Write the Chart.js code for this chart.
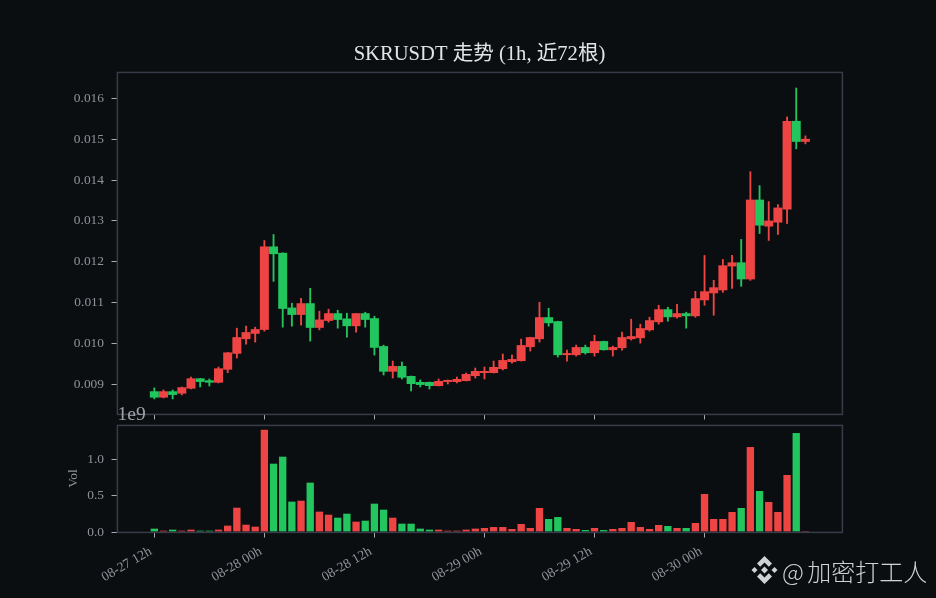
<!DOCTYPE html>
<html><head><meta charset="utf-8">
<script src="https://cdn.jsdelivr.net/npm/chart.js@4/dist/chart.umd.min.js"></script>
<style>
html,body{margin:0;padding:0;background:#0b0e11;width:936px;height:598px;overflow:hidden}
canvas{position:absolute;left:0}
#offset{position:absolute;left:117.5px;top:403px;font:19.5px "Liberation Serif","DejaVu Serif",serif;color:#9ea3ab}
#wm{position:absolute;left:751px;top:553px;height:34px;display:flex;align-items:center;color:#d0d2d4;font:300 24px "Noto Sans CJK SC","Noto Sans",sans-serif;white-space:nowrap}
#wm svg{margin-right:4px}
#wm b{font-weight:300;margin-left:-2px}
</style></head><body>
<canvas id="main" style="top:0"></canvas>
<canvas id="vol" style="top:420px"></canvas>
<div id="offset">1e9</div>
<div id="wm"><svg width="27" height="30" viewBox="0 0 27 30"><g fill="#d0d2d4"><polygon points="13.5,1 21,8.5 17.8,11.7 13.5,7.4 9.2,11.7 6,8.5"/><polygon points="13.5,29 21,21.5 17.8,18.3 13.5,22.6 9.2,18.3 6,21.5"/><polygon points="3.5,12 6.5,15 3.5,18 .5,15"/><polygon points="23.5,12 26.5,15 23.5,18 20.5,15"/><polygon points="13.5,11.5 17,15 13.5,18.5 10,15"/></g></svg><span>@ <b>加密打工人</b></span></div>
<script>
const SERIF='"Liberation Serif","DejaVu Serif",serif';
const title='SKRUSDT 走势 (1h, 近72根)';
const tickIdx=[0,12,24,36,48,60];
const tickLabels=['08-27 12h','08-28 00h','08-28 12h','08-29 00h','08-29 12h','08-30 00h'];
const priceTicks=[0.009,0.010,0.011,0.012,0.013,0.014,0.015,0.016];
const volTicks=[0,0.5,1.0];
const openP=[.008829,.008675,.008829,.008772,.008894,.009146,.009098,.009041,.009358,.009748,.010106,.010236,.010333,.012374,.012219,.010878,.010699,.010984,.010382,.010553,.010740,.010610,.010423,.010740,.010618,.009935,.009309,.009447,.009203,.009057,.009057,.008959,.009057,.009057,.009081,.009203,.009276,.009276,.009374,.009545,.009569,.009911,.010106,.010642,.010545,.009715,.009715,.009911,.009764,.010057,.009837,.009886,.010106,.010130,.010325,.010520,.010837,.010642,.010740,.010667,.011057,.011228,.011301,.011886,.011984,.011569,.013520,.012862,.012959,.013276,.015447,.014935];
const closeP=[.008675,.008829,.008740,.008927,.009146,.009057,.009041,.009390,.009780,.010154,.010276,.010350,.012374,.012187,.010846,.010699,.010984,.010382,.010585,.010740,.010577,.010423,.010740,.010577,.009894,.009309,.009447,.009163,.009008,.008984,.008959,.009081,.009106,.009130,.009252,.009325,.009325,.009423,.009593,.009618,.009959,.010154,.010642,.010496,.009715,.009764,.009911,.009764,.010057,.009837,.009911,.010154,.010179,.010374,.010569,.010837,.010642,.010740,.010667,.011106,.011276,.011374,.011911,.011984,.011569,.013520,.012886,.013008,.013325,.015447,.014935,.015008];
const highP=[.008911,.008862,.008862,.008935,.009179,.009146,.009130,.009423,.009780,.010374,.010423,.010398,.012520,.012667,.012219,.010984,.011106,.011350,.010789,.010837,.010813,.010740,.010740,.010764,.010667,.009959,.009569,.009545,.009203,.009106,.009057,.009130,.009106,.009179,.009276,.009398,.009423,.009569,.009740,.009715,.010106,.010154,.011008,.010862,.010545,.009837,.009959,.009959,.010203,.010057,.009935,.010276,.010593,.010472,.010642,.010935,.010886,.010959,.010764,.011276,.012154,.011545,.012057,.012154,.012545,.014203,.013862,.013472,.013398,.015545,.016252,.015081];
const lowP=[.008642,.008667,.008642,.008740,.008886,.008935,.008959,.009033,.009285,.009642,.009984,.010033,.010301,.011520,.010398,.010423,.010447,.010057,.010333,.010520,.010374,.010154,.010276,.010398,.009715,.009228,.009154,.009130,.008837,.008935,.008886,.008959,.009008,.009033,.009081,.009154,.009130,.009276,.009350,.009520,.009569,.009813,.010033,.010423,.009667,.009569,.009691,.009740,.009691,.009837,.009691,.009837,.010081,.010008,.010301,.010472,.010545,.010618,.010374,.010642,.010935,.010691,.011252,.011350,.011398,.011545,.012691,.012520,.012667,.012935,.014764,.014886];
const volume=[.046,.018,.032,.018,.032,.018,.018,.032,.087,.333,.100,.073,1.402,.936,1.032,.416,.429,.676,.279,.237,.196,.251,.142,.155,.388,.306,.196,.114,.114,.046,.032,.032,.018,.018,.032,.046,.055,.068,.068,.041,.110,.055,.329,.178,.205,.055,.041,.027,.055,.027,.041,.055,.137,.068,.041,.096,.082,.055,.055,.123,.521,.178,.178,.274,.329,1.164,.562,.411,.274,.781,1.356,.014];

const RED='#ef4444',GREEN='#22c55e',FRAME='#363c49',TXT='#8f949c',TICK='#a8acb2';
const idx=openP.map((_,i)=>i);
const colors=openP.map((o,i)=>closeP[i]>=o?RED:GREEN);
const frame={id:'frame',afterDraw(c){const a=c.chartArea,x=c.ctx;x.save();x.strokeStyle=FRAME;x.lineWidth=1.5;x.strokeRect(a.left+.4,a.top+.4,a.right-a.left,a.bottom-a.top);x.restore();}};
const X_MIN=-4.07,X_MAX=74.99;
function xScale(h,showLabels){return {type:'linear',min:X_MIN,max:X_MAX,offset:false,
  afterBuildTicks(s){s.ticks=tickIdx.map(v=>({value:v}));},
  afterFit(s){s.height=h;s.paddingLeft=0;s.paddingRight=0;},
  border:{display:false},
  grid:{display:true,offset:false,drawOnChartArea:false,drawTicks:true,tickLength:5.5,tickWidth:1,tickColor:TICK},
  ticks:{autoSkip:false,maxRotation:30,minRotation:showLabels?30:0,padding:6,labelOffset:showLabels?-3.5:0,color:TXT,font:{family:SERIF,size:13.6},
    callback(v){if(!showLabels)return '';const k=tickIdx.indexOf(v);return k>=0?tickLabels[k]:'';}}};}
function yScale(min,max,list,fmt,extra){return Object.assign({position:'left',min,max,
  afterBuildTicks(s){s.ticks=list.map(v=>({value:v}));},
  afterFit(s){s.width=117;s.paddingTop=0;s.paddingBottom=0;},
  border:{display:false},
  grid:{display:true,drawOnChartArea:false,drawTicks:true,tickLength:5.5,tickWidth:1,tickColor:TICK},
  ticks:{padding:7.5,color:TXT,font:{family:SERIF,size:13.4},callback:fmt}},extra||{});}
const common={responsive:false,animation:false,devicePixelRatio:1,events:[]};
function setup(id,h){const c=document.getElementById(id);c.width=936;c.height=h;c.style.width='936px';c.style.height=h+'px';return c;}

new Chart(setup('main',425),{type:'bar',plugins:[frame],
 data:{datasets:[
  {data:idx.map(i=>({x:i,y:[lowP[i],highP[i]]})),backgroundColor:colors,barThickness:1.2,grouped:false,order:2},
  {data:idx.map(i=>({x:i,y:[Math.min(openP[i],closeP[i]),Math.max(openP[i],closeP[i])]})),backgroundColor:colors,barPercentage:.98,categoryPercentage:1,grouped:false,order:1}
 ]},
 options:{...common,layout:{padding:{left:0,right:94,top:0,bottom:0}},
  plugins:{legend:{display:false},tooltip:{enabled:false},
   title:{display:true,text:title,color:'#e2e4e6',fullSize:false,font:{family:SERIF+',"Noto Sans CJK SC"',size:20.6,weight:'normal'},padding:{top:42.3,bottom:5}}},
  scales:{x:xScale(11,false),y:yScale(0.008273,0.016644,priceTicks,v=>v.toFixed(3))}}});

new Chart(setup('vol',178),{type:'bar',plugins:[frame],
 data:{datasets:[{data:idx.map(i=>({x:i,y:volume[i]})),backgroundColor:colors,barPercentage:.8,categoryPercentage:1}]},
 options:{...common,layout:{padding:{left:0,right:94,top:5,bottom:0}},
  plugins:{legend:{display:false},tooltip:{enabled:false},title:{display:false}},
  scales:{x:xScale(66,true),y:yScale(0,1.466,volTicks,v=>v.toFixed(1),{title:{display:true,text:'Vol',color:TXT,font:{family:SERIF,size:13.5},padding:{top:65,bottom:0}}})}}});
</script></body></html>
